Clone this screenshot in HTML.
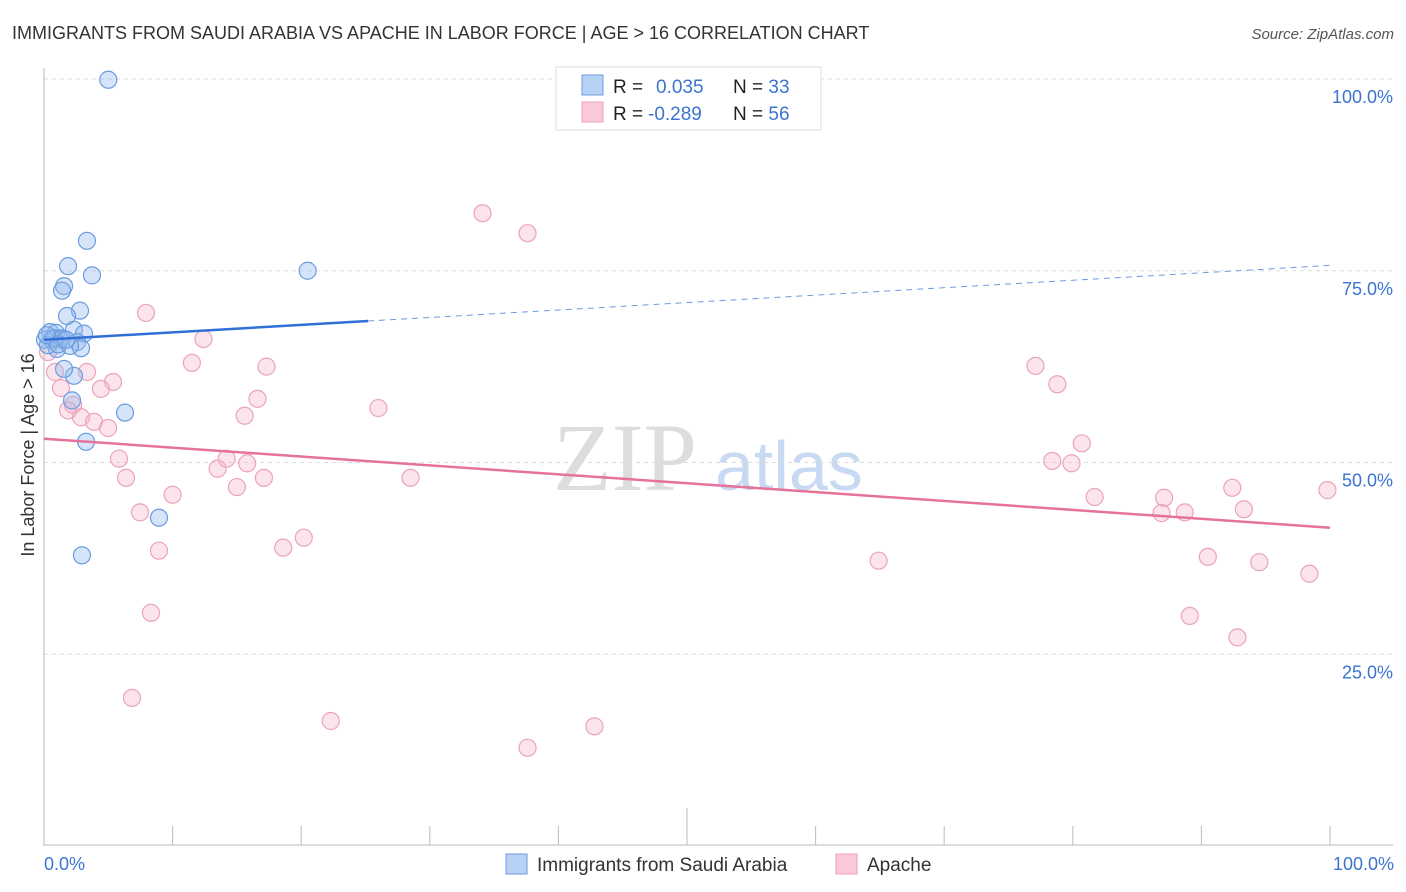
<!DOCTYPE html>
<html><head><meta charset="utf-8"><style>
body{margin:0;background:#fff;font-family:"Liberation Sans",sans-serif;}
svg{display:block}
</style></head><body>
<svg id="c" width="1406" height="892" xmlns="http://www.w3.org/2000/svg">
<text x="12" y="39" font-size="18" fill="#333">IMMIGRANTS FROM SAUDI ARABIA VS APACHE IN LABOR FORCE | AGE &gt; 16 CORRELATION CHART</text>
<text x="1394" y="39" font-size="15" fill="#555" font-style="italic" text-anchor="end">Source: ZipAtlas.com</text>
<g>
<text x="553" y="490" font-size="96" font-family="Liberation Serif" fill="#ddd">ZIP</text>
<text x="715" y="490" font-size="70" fill="#c8daf2">atlas</text>
</g>
<g id="grid"></g>
<g id="axes"></g>
<g id="pts"></g>
<g id="trend"></g>
<text transform="translate(34,455) rotate(-90)" font-size="18" fill="#333" text-anchor="middle">In Labor Force | Age &gt; 16</text>
<text x="44" y="870" font-size="18" fill="#3b74d1">0.0%</text>
<text x="1394" y="870" font-size="18" fill="#3b74d1" text-anchor="end">100.0%</text>
<g>
<rect x="556" y="67" width="265" height="63" fill="#fff" stroke="#ddd"/>
<rect x="582" y="75" width="21" height="20" fill="#b8d2f5" stroke="#6a9be0"/>
<rect x="582" y="102" width="21" height="20" fill="#fbc8d8" stroke="#eaa0b8"/>
<text x="613" y="93" font-size="19" fill="#222">R = <tspan x="656" fill="#3b74d1">0.035</tspan><tspan x="733" fill="#222">N = </tspan><tspan fill="#3b74d1">33</tspan></text>
<text x="613" y="120" font-size="19" fill="#222">R = <tspan x="648" fill="#3b74d1">-0.289</tspan><tspan x="733" fill="#222">N = </tspan><tspan fill="#3b74d1">56</tspan></text>
</g>
<g>
<rect x="506" y="854" width="21" height="20" fill="#b8d2f5" stroke="#6a9be0"/>
<text x="537" y="871" font-size="19" fill="#333">Immigrants from Saudi Arabia</text>
<rect x="836" y="854" width="21" height="20" fill="#fbc8d8" stroke="#eaa0b8"/>
<text x="867" y="871" font-size="19" fill="#333">Apache</text>
</g>
</svg>
<script>
const yTicks=[100,75,50,25];
const yTickLabels=["100.0%","75.0%","50.0%","25.0%"];
const xTicks=[0,10,20,30,40,50,60,70,80,90,100];
const blueX=[5.0,3.34,1.87,3.73,1.56,1.40,2.80,1.79,20.5,0.47,0.93,2.33,3.11,0.08,0.62,1.24,2.57,2.88,1.01,2.33,1.56,2.18,6.30,3.27,8.94,2.95,0.31,0.78,1.40,0.23,1.09,2.02,1.71];
const blueY=[99.9,78.9,75.6,74.4,73.0,72.4,69.8,69.1,75.0,67.0,66.9,67.3,66.8,66.0,66.0,66.0,65.7,64.9,64.8,61.3,62.2,58.1,56.5,52.7,42.8,37.9,65.3,66.2,66.2,66.6,65.4,65.2,66.0];
const pinkX=[34.1,37.6,7.93,12.4,11.5,17.3,0.86,3.34,5.37,4.43,1.32,2.26,1.87,2.88,3.89,4.98,16.6,15.6,26.0,5.83,13.5,14.2,15.8,15.0,17.1,28.5,6.38,10.0,7.47,8.94,18.6,20.2,8.32,6.84,22.3,37.6,42.8,64.9,77.1,78.8,80.7,78.4,79.9,81.7,87.1,86.9,88.7,92.4,93.3,90.5,94.5,98.4,99.8,89.1,92.8,0.31];
const pinkY=[82.5,79.9,69.5,66.1,63.0,62.5,61.8,61.8,60.5,59.6,59.7,57.5,56.8,55.9,55.3,54.5,58.3,56.1,57.1,50.5,49.2,50.5,49.9,46.8,48.0,48.0,48.0,45.8,43.5,38.5,38.9,40.2,30.4,19.3,16.3,12.8,15.6,37.2,62.6,60.2,52.5,50.2,49.9,45.5,45.4,43.4,43.5,46.7,43.9,37.7,37.0,35.5,46.4,30.0,27.2,64.4];
const blueTrend=[66.0,75.7];
const blueSolidEnd=25.2;
const pinkTrend=[53.1,41.5];

const NS="http://www.w3.org/2000/svg";
const sx=v=>44+v*12.86, sy=v=>846-v*7.67;
function mk(tag,attrs,parent){const e=document.createElementNS(NS,tag);for(const k in attrs)e.setAttribute(k,attrs[k]);parent.appendChild(e);return e;}
const grid=document.getElementById('grid'),axes=document.getElementById('axes'),pts=document.getElementById('pts'),trend=document.getElementById('trend');
yTicks.forEach((t,i)=>{
 const l=mk('line',{x1:44,x2:1393,y1:sy(t),y2:sy(t),stroke:'#ddd','stroke-dasharray':'4,4'},grid);
 
 
 const tx=mk('text',{x:1393,y:sy(t)+24,'font-size':18,fill:'#3b74d1','text-anchor':'end'},grid);
 tx.textContent=yTickLabels[i];
 
 
});
mk('line',{x1:44,x2:44,y1:68,y2:846,stroke:'#bbb'},axes);
mk('line',{x1:44,x2:1393,y1:845,y2:845,stroke:'#bbb'},axes);
xTicks.forEach(t=>{
 const l=mk('line',{x1:sx(t),x2:sx(t),y1:t===50?808:826,y2:845,stroke:'#bbb'},axes);
 
 
});
function dots(X,Y,fill,stroke,name){
 X.forEach((x,i)=>{
  const c=mk('circle',{cx:sx(x),cy:sy(Y[i]),r:8.5,fill:fill,stroke:stroke,'stroke-width':1.2},pts);
  
  
 });
}
dots(pinkX,pinkY,'rgba(246,178,200,0.35)','#eba3bb','apache-point');
dots(blueX,blueY,'rgba(150,188,238,0.4)','#6a9be0','saudi-point');
const bAt=x=>blueTrend[0]+(blueTrend[1]-blueTrend[0])*x/100;
let l1=mk('line',{x1:sx(0),y1:sy(bAt(0)),x2:sx(blueSolidEnd),y2:sy(bAt(blueSolidEnd)),stroke:'#2f6fd6','stroke-width':2.5},trend);


let l2=mk('line',{x1:sx(blueSolidEnd),y1:sy(bAt(blueSolidEnd)),x2:sx(100),y2:sy(bAt(100)),stroke:'#6a9be0','stroke-width':1,'stroke-dasharray':'6,5'},trend);


let l3=mk('line',{x1:sx(0),y1:sy(pinkTrend[0]),x2:sx(100),y2:sy(pinkTrend[1]),stroke:'#e5729b','stroke-width':2.5},trend);


</script>
</body></html>
